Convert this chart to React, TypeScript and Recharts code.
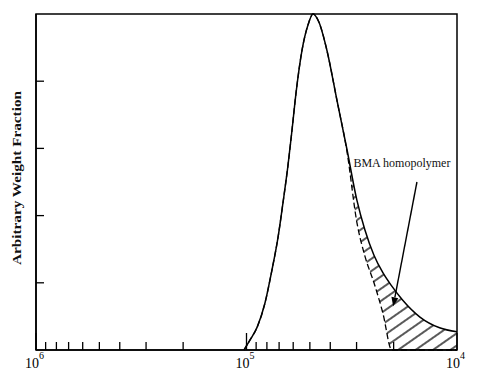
import { ComposedChart, Area, Line, XAxis, YAxis, ReferenceLine, ReferenceArea } from 'recharts';

// molecular weight (reversed log axis, 10^6 on the left)
const molWeight = [
  1.028e5, 9.62e4, 8.9e4, 8.17e4, 7.57e4, 7.08e4, 6.71e4, 6.35e4, 6.08e4, 5.82e4,
  5.45e4, 5.1e4, 4.83e4, 4.53e4, 4.15e4, 3.72e4, 3.33e4, 2.99e4, 2.74e4, 2.48e4,
  2.25e4, 2.04e4, 1.81e4, 1.5e4, 1.21e4, 1.0e4,
];
// whole sample
const totalFraction = [
  0, 0.15, 0.34, 0.7, 1.19, 1.68, 2.19, 2.75, 3.27, 3.82,
  4.46, 4.84, 5.0, 4.88, 4.46, 3.72, 2.98, 2.23, 1.79, 1.41,
  1.15, 0.95, 0.74, 0.49, 0.33, 0.27,
];
// sample without the BMA homopolymer (hatched part is the difference)
const copolymerFraction = [
  0, 0.15, 0.34, 0.7, 1.19, 1.68, 2.19, 2.75, 3.27, 3.82,
  4.46, 4.84, 5.0, 4.88, 4.46, 3.72, 2.95, 1.9, 1.4, 1.0,
  0.55, 0, 0, 0, 0, 0,
];

const xTicks = [
  1e6, 9e5, 8e5, 7e5, 6e5, 5e5, 4e5, 3e5, 2e5,
  1e5, 9e4, 8e4, 7e4, 6e4, 5e4, 4e4, 3e4, 2e4, 1e4,
];
const yTicks = [1, 2, 3, 4];
const xDomain: [number, number] = [1e4, 1e6];
const yDomain: [number, number] = [0, 5];

// arrow from the label down into the hatched area
const arrowFrom = { mw: 1.55e4, y: 2.5 };
const arrowTo = { mw: 2.01e4, y: 0.65 };

const data = molWeight.map((m, i) => ({
  mw: m,
  total: totalFraction[i],
  copo: copolymerFraction[i],
  bma: [copolymerFraction[i], totalFraction[i]],
}));

const FONT = '"Liberation Serif", "DejaVu Serif", serif';

const XTick = (props: any) => {
  const { x, y, payload } = props;
  const v = payload.value;
  const exp = Math.round(Math.log10(v));
  const major = Math.abs(v - Math.pow(10, exp)) < 1;
  return (
    <g>
      <line x1={x} y1={y} x2={x} y2={y - (major ? 17 : 8)} stroke="#000" strokeWidth={1.3} />
      {major && (
        <>
          <text x={x + 3} y={y + 18} textAnchor="end" fontFamily={FONT} fontSize={14} fill="#000">10</text>
          <text x={x + 3} y={y + 9} fontFamily={FONT} fontSize={10} fill="#000">{exp}</text>
        </>
      )}
    </g>
  );
};

const YTick = (props: any) => {
  const { x, y } = props;
  return <line x1={x} y1={y} x2={x + 8} y2={y} stroke="#000" strokeWidth={1.3} />;
};

const YLabel = (props: any) => {
  const vb = props.viewBox || { x: 0, y: 14, width: 36, height: 336 };
  const cx = vb.x + 16;
  const cy = vb.y + vb.height / 2 - 4;
  return (
    <text
      x={cx}
      y={cy}
      transform={`rotate(-90 ${cx} ${cy})`}
      textAnchor="middle"
      dominantBaseline="central"
      fontFamily={FONT}
      fontSize={13.5}
      fontWeight="bold"
      fill="#111"
      textLength={174}
      lengthAdjust="spacingAndGlyphs"
    >
      Arbitrary Weight Fraction
    </text>
  );
};

const Arrow = (props: any) => {
  const { x1, y1, x2, y2 } = props;
  const ang = Math.atan2(y2 - y1, x2 - x1);
  const len = 9;
  const w = 3.5;
  const bx = x2 - len * Math.cos(ang);
  const by = y2 - len * Math.sin(ang);
  const px = -Math.sin(ang) * w;
  const py = Math.cos(ang) * w;
  return (
    <g>
      <line x1={x1} y1={y1} x2={bx} y2={by} stroke="#000" strokeWidth={1.4} />
      <polygon points={`${x2},${y2} ${bx + px},${by + py} ${bx - px},${by - py}`} fill="#000" />
      <text x={x1 - 15} y={y1 - 15} textAnchor="middle" fontFamily={FONT} fontSize={12} fill="#111">
        BMA homopolymer
      </text>
    </g>
  );
};

export default function App() {
  return (
    <div style={{ position: 'absolute', left: 0, top: 0, width: 489, height: 370, background: '#fff' }}>
      <ComposedChart width={489} height={370} data={data} margin={{ top: 14, right: 32, bottom: 0, left: 0 }}>
        <defs>
          <pattern id="hatch" width="10" height="10" patternUnits="userSpaceOnUse" patternTransform="rotate(-35)">
            <line x1="0" y1="5" x2="10" y2="5" stroke="#000" strokeWidth={1.3} />
          </pattern>
        </defs>

        <XAxis
          dataKey="mw"
          type="number"
          scale="log"
          domain={xDomain}
          reversed
          allowDataOverflow
          ticks={xTicks}
          interval={0}
          height={20}
          tickSize={0}
          tickMargin={0}
          tickLine={false}
          tick={<XTick />}
          axisLine={{ stroke: '#000', strokeWidth: 1.5 }}
        />
        <YAxis
          type="number"
          domain={yDomain}
          ticks={yTicks}
          width={36}
          tickSize={0}
          tickMargin={0}
          tickLine={false}
          tick={<YTick />}
          axisLine={{ stroke: '#000', strokeWidth: 1.5 }}
          label={<YLabel />}
        />

        {/* plot frame (top and right sides) */}
        <ReferenceArea
          x1={xDomain[1]}
          x2={xDomain[0]}
          y1={yDomain[0]}
          y2={yDomain[1]}
          fill="none"
          fillOpacity={0}
          stroke="#000"
          strokeWidth={1.5}
          strokeOpacity={1}
        />

        <Area
          type="monotone"
          dataKey="bma"
          stroke="none"
          fill="url(#hatch)"
          fillOpacity={1}
          isAnimationActive={false}
        />
        <Line
          type="monotone"
          dataKey="copo"
          stroke="#000"
          strokeWidth={1.3}
          strokeDasharray="6 3"
          dot={false}
          isAnimationActive={false}
        />
        <Line
          type="monotone"
          dataKey="total"
          stroke="#000"
          strokeWidth={1.5}
          dot={false}
          isAnimationActive={false}
        />
        <ReferenceLine
          segment={[
            { x: arrowFrom.mw, y: arrowFrom.y },
            { x: arrowTo.mw, y: arrowTo.y },
          ]}
          shape={<Arrow />}
        />
      </ComposedChart>
    </div>
  );
}
